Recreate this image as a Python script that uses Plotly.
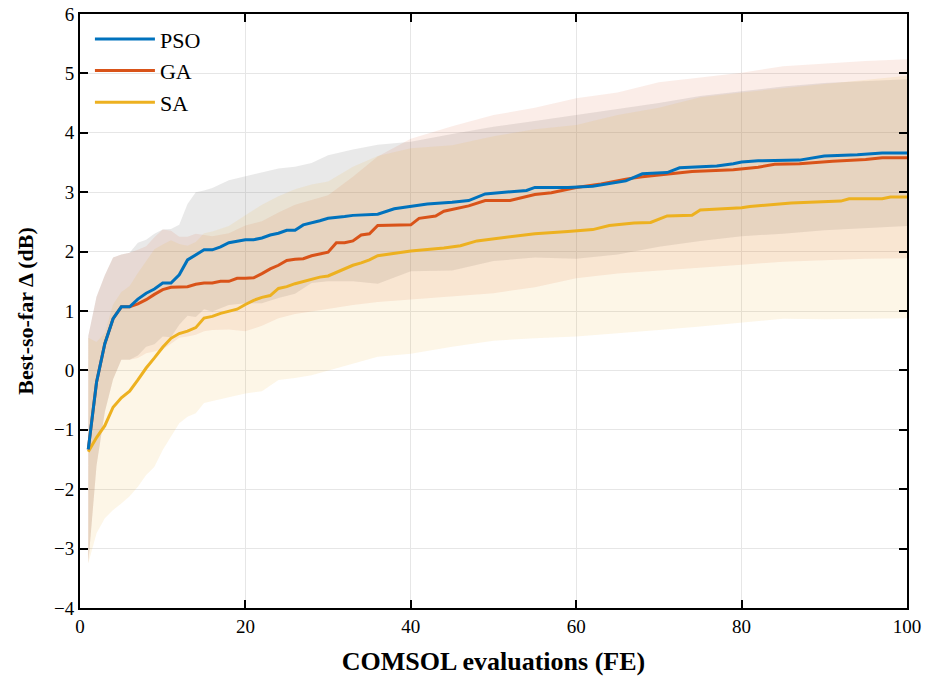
import plotly.graph_objects as go

# ---------------- data ----------------
pso_x = list(range(1, 35)) + [36, 38, 40, 42, 45, 47, 49, 52, 54, 55, 59, 62, 64, 66, 68, 71, 72.5, 77, 79, 80, 82, 87, 90, 94, 97, 100]
pso_mean = [-1.33, -0.2, 0.45, 0.87, 1.07, 1.07, 1.2, 1.3, 1.37, 1.47, 1.47, 1.61, 1.86, 1.95, 2.03, 2.03, 2.08, 2.15, 2.18, 2.2,
            2.2, 2.23, 2.28, 2.31, 2.36, 2.36, 2.45, 2.48, 2.52, 2.56, 2.57, 2.59, 2.61, 2.62,
            2.63, 2.72, 2.76, 2.80, 2.83, 2.86, 2.97, 3.0, 3.03, 3.08, 3.08, 3.10, 3.15, 3.19, 3.31, 3.33, 3.41, 3.44, 3.48, 3.51,
            3.53, 3.54, 3.61, 3.63, 3.66, 3.66]

ga_x = list(range(1, 37)) + [40, 41, 43, 44, 47, 49, 52, 55, 57, 60, 63, 66, 68, 71, 74, 79, 82, 84, 87, 91, 95, 97, 100]
ga_mean = [-1.33, -0.2, 0.45, 0.87, 1.07, 1.07, 1.12, 1.19, 1.28, 1.36, 1.40, 1.40, 1.41, 1.45, 1.47, 1.47, 1.50, 1.50, 1.55, 1.55,
           1.56, 1.63, 1.71, 1.77, 1.85, 1.87, 1.88, 1.93, 1.96, 1.99, 2.15, 2.15, 2.18, 2.28, 2.30, 2.44,
           2.45, 2.56, 2.60, 2.68, 2.77, 2.86, 2.86, 2.96, 2.99, 3.08, 3.14, 3.22, 3.26, 3.30, 3.35, 3.38, 3.42, 3.47, 3.48,
           3.52, 3.55, 3.58, 3.58]

sa_x = list(range(1, 37)) + [40, 44, 46, 48, 51, 55, 59, 62, 64, 67, 69, 71, 74, 75, 80, 81, 86, 92, 93, 97, 98, 100]
sa_mean = [-1.37, -1.13, -0.93, -0.62, -0.46, -0.35, -0.16, 0.04, 0.21, 0.39, 0.54, 0.62, 0.66, 0.72, 0.88, 0.91, 0.96, 0.99, 1.03, 1.11,
           1.18, 1.23, 1.26, 1.38, 1.41, 1.46, 1.50, 1.53, 1.57, 1.59, 1.65, 1.71, 1.77, 1.81, 1.86, 1.93,
           2.01, 2.06, 2.10, 2.18, 2.23, 2.30, 2.34, 2.37, 2.44, 2.48, 2.49, 2.60, 2.61, 2.70, 2.74, 2.76, 2.82, 2.85, 2.89,
           2.89, 2.92, 2.92]

band_x = [1, 2, 3, 4, 5, 6, 7, 8, 9, 10, 11, 12, 13, 14, 15, 16, 18, 20, 22, 24, 26, 28, 30, 33, 36, 40,
          45, 50, 55, 60, 65, 70, 75, 80, 85, 90, 95, 100]

pso_hi = [0.58, 1.24, 1.6, 1.9, 1.95, 1.98, 2.15, 2.2, 2.3, 2.37, 2.38, 2.45, 2.8, 3.0, 3.03, 3.07, 3.2, 3.27, 3.33, 3.4, 3.43, 3.49,
          3.62, 3.72, 3.8, 3.85, 3.98, 4.1, 4.2, 4.3, 4.39, 4.5, 4.62, 4.7, 4.78, 4.84, 4.87, 4.9]
pso_lo = [-3.25, -1.6, -0.7, -0.15, 0.18, 0.18, 0.25, 0.4, 0.44, 0.57, 0.56, 0.77, 0.92, 0.9, 1.03, 0.99, 1.1, 1.13, 1.13, 1.22,
          1.29, 1.47, 1.5, 1.5, 1.46, 1.67, 1.68, 1.84, 1.9, 1.88, 1.95, 2.08, 2.18, 2.26, 2.3, 2.36, 2.4, 2.43]

ga_hi = [0.58, 1.24, 1.6, 1.9, 1.95, 1.98, 2.03, 2.09, 2.24, 2.37, 2.35, 2.25, 2.25, 2.3, 2.28, 2.26, 2.31, 2.44, 2.51, 2.66,
         2.79, 2.87, 2.95, 3.26, 3.6, 3.9, 4.11, 4.3, 4.42, 4.58, 4.68, 4.85, 4.93, 5.01, 5.12, 5.17, 5.21, 5.24]
ga_lo = [-3.25, -1.6, -0.7, -0.15, 0.18, 0.18, 0.21, 0.29, 0.32, 0.35, 0.45, 0.55, 0.57, 0.6, 0.66, 0.68, 0.69, 0.66, 0.75, 0.88,
         0.95, 0.99, 1.03, 1.1, 1.15, 1.2, 1.25, 1.3, 1.4, 1.55, 1.63, 1.68, 1.73, 1.78, 1.83, 1.86, 1.88, 1.89]

sa_hi = [0.55, 0.48, 0.63, 1.11, 1.32, 1.42, 1.64, 1.84, 2.04, 2.12, 2.19, 2.13, 2.1, 2.16, 2.31, 2.34, 2.43, 2.61, 2.79, 2.93,
         3.05, 3.13, 3.18, 3.43, 3.61, 3.74, 3.79, 3.94, 4.06, 4.13, 4.3, 4.42, 4.6, 4.68, 4.75, 4.82, 4.9, 4.96]
sa_lo = [-3.25, -2.74, -2.49, -2.35, -2.24, -2.12, -1.96, -1.76, -1.62, -1.34, -1.11, -0.89, -0.78, -0.72, -0.55, -0.52, -0.45,
         -0.39, -0.35, -0.16, -0.13, -0.08, 0.0, 0.11, 0.23, 0.28, 0.4, 0.5, 0.54, 0.57, 0.62, 0.68, 0.74, 0.8, 0.87, 0.86, 0.87, 0.88]

names = ["PSO", "GA", "SA"]
line_colors = ["#0072BD", "#D95319", "#EDB120"]
band_colors = ["rgba(120,120,120,0.16)", "rgba(217,83,25,0.10)", "rgba(237,177,32,0.11)"]

x_ticks = [0, 20, 40, 60, 80, 100]
y_ticks = [-4, -3, -2, -1, 0, 1, 2, 3, 4, 5, 6]

FONT = "Liberation Serif"

fig = go.Figure()

bands = [(pso_lo, pso_hi), (ga_lo, ga_hi), (sa_lo, sa_hi)]
for (lo, hi), col in zip(bands, band_colors):
    fig.add_trace(go.Scatter(
        x=band_x + band_x[::-1], y=hi + lo[::-1],
        fill="toself", fillcolor=col, line=dict(width=0, color="rgba(0,0,0,0)"),
        mode="lines", showlegend=False, hoverinfo="skip"))

series = [(pso_x, pso_mean), (ga_x, ga_mean), (sa_x, sa_mean)]
for idx in [2, 1, 0]:
    xs, ys = series[idx]
    fig.add_trace(go.Scatter(
        x=xs, y=ys, mode="lines", name=names[idx],
        line=dict(color=line_colors[idx], width=3), legendrank=idx + 1))

fig.update_layout(
    width=929, height=680,
    margin=dict(l=80, r=22, t=14, b=72),
    paper_bgcolor="white", plot_bgcolor="white",
    font=dict(family=FONT, size=19, color="black"),
    showlegend=True,
    legend=dict(x=0.012, y=0.993, xanchor="left", yanchor="top",
                bgcolor="rgba(0,0,0,0)", borderwidth=0,
                font=dict(family=FONT, size=22, color="black"),
                itemwidth=60, tracegroupgap=0, traceorder="normal"),
)

fig.update_xaxes(
    range=[0, 100], tickvals=x_ticks, ticks="inside", ticklen=8, tickwidth=1.5, tickcolor="black",
    showline=True, linecolor="black", linewidth=2, mirror="ticks",
    showgrid=True, gridcolor="#e6e6e6", gridwidth=1, zeroline=False, automargin=False,
    tickfont=dict(family=FONT, size=19, color="black"),
    title=dict(text="<b>COMSOL evaluations (FE)</b>", font=dict(family=FONT, size=26, color="black"), standoff=16),
)
fig.update_yaxes(
    range=[-4, 6], tickvals=y_ticks, ticktext=[str(v).replace("-", "\u2212") for v in y_ticks],
    ticks="inside", ticklen=8, tickwidth=1.5, tickcolor="black",
    showline=True, linecolor="black", linewidth=2, mirror="ticks",
    showgrid=True, gridcolor="#e6e6e6", gridwidth=1, zeroline=False, automargin=False,
    tickfont=dict(family=FONT, size=19, color="black"),
    title=dict(text="<b>Best-so-far \u0394 (dB)</b>", font=dict(family=FONT, size=22, color="black"), standoff=14),
)

fig.write_html("out.html")
